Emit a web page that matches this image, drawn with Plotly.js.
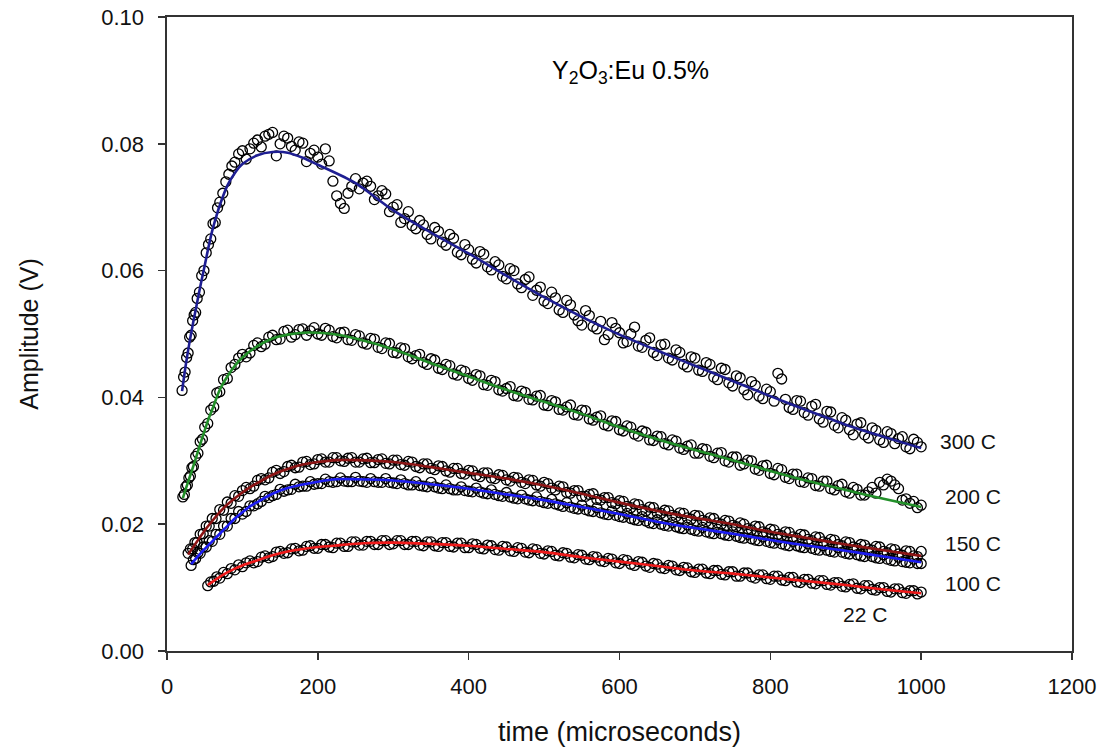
<!DOCTYPE html>
<html>
<head>
<meta charset="utf-8">
<script src="https://cdn.plot.ly/plotly-3.0.1.min.js"></script>
<style>html,body{margin:0;padding:0;background:#fff;}#chart{width:1106px;height:755px;}</style>
</head>
<body>
<div id="chart"></div>
<script>
// ---- time grids (microseconds) ----
var tTail = [100,110,120,130,140,150,160,170,180,190,200,210,220,230,240,250,260,270,280,290,300,
  310,320,330,340,350,360,370,380,390,400,410,420,430,440,450,460,470,480,490,500,
  510,520,530,540,550,560,570,580,590,600,610,620,630,640,650,660,670,680,690,700,
  710,720,730,740,750,760,770,780,790,800,810,820,830,840,850,860,870,880,890,900,
  910,920,930,940,950,960,970,980,990,1000];
var tMid = [105,115,125,135,145,155,165,175,185,195,205,215,225,235,245,255,265,275,285,295,
  305,315,325,335,345,355,365,375,385,395,405,415,425,435,445,455,465,475,485,495,
  505,515,525,535,545,555,565,575,585,595,605,615,625,635,645,655,665,675,685,695,
  705,715,725,735,745,755,765,775,785,795,805,815,825,835,845,855,865,875,885,895,
  905,915,925,935,945,955,965,975,985,995];

// ---- 300 C measured points ----
var t300Rise = [20,22,24,26,28,30,32,34,36,38,40,43,46,49,52,55,58,61,64,67,70,74,78,82,86,90,95];
var a300Rise = [0.0411,0.0432,0.0440,0.0463,0.0470,0.0495,0.0498,0.0521,0.0530,0.0534,0.0556,0.0566,0.0592,0.0600,0.0628,0.0641,0.0650,0.0674,0.0676,0.0699,0.0708,0.0722,0.0740,0.0752,0.0765,0.0771,0.0784];
var a300Tail = [0.0789,0.0792,0.0806,0.0812,0.0818,0.0800,0.0809,0.0790,0.0801,0.0785,0.0779,
  0.0792,0.0741,0.0706,0.0722,0.0745,0.0738,0.0733,0.0718,0.0721,0.0700,
  0.0676,0.0693,0.0666,0.0672,0.0650,0.0662,0.0640,0.0651,0.0625,0.0633,
  0.0612,0.0626,0.0601,0.0609,0.0587,0.0600,0.0573,0.0590,0.0569,0.0552,
  0.0566,0.0538,0.0553,0.0530,0.0514,0.0529,0.0508,0.0491,0.0518,0.0502,
  0.0488,0.0511,0.0479,0.0494,0.0466,0.0484,0.0459,0.0471,0.0448,0.0462,
  0.0441,0.0452,0.0428,0.0444,0.0418,0.0431,0.0404,0.0419,0.0398,0.0409,
  0.0438,0.0397,0.0381,0.0394,0.0372,0.0389,0.0361,0.0377,0.0352,0.0364,
  0.0341,0.0360,0.0336,0.0348,0.0329,0.0343,0.0335,0.0322,0.0334,0.0322];
var a300Mid = [0.0776,0.0801,0.0795,0.0815,0.0781,0.0812,0.0796,0.0803,0.0772,0.0790,
  0.0768,0.0773,0.0718,0.0698,0.0733,0.0729,0.0741,0.0712,0.0726,0.0693,
  0.0704,0.0682,0.0671,0.0679,0.0657,0.0668,0.0645,0.0657,0.0629,0.0641,
  0.0618,0.0630,0.0606,0.0614,0.0591,0.0603,0.0579,0.0586,0.0561,0.0574,
  0.0548,0.0557,0.0534,0.0546,0.0521,0.0537,0.0512,0.0520,0.0499,0.0509,
  0.0486,0.0500,0.0481,0.0490,0.0471,0.0483,0.0462,0.0475,0.0452,0.0464,
  0.0443,0.0455,0.0432,0.0446,0.0423,0.0434,0.0412,0.0425,0.0402,0.0413,
  0.0394,0.0429,0.0384,0.0395,0.0376,0.0386,0.0366,0.0378,0.0356,0.0368,
  0.0349,0.0358,0.0341,0.0352,0.0333,0.0346,0.0327,0.0338,0.0319,0.0329];

// ---- 200 C measured points ----
var t200Rise = [21,23,25,27,29,31,33,35,38,41,44,47,50,54,58,62,66,70,75,80,85,90,95];
var a200Rise = [0.0243,0.0247,0.0259,0.0262,0.0273,0.0276,0.0289,0.0291,0.0307,0.0312,0.0330,0.0334,0.0353,0.0359,0.0380,0.0385,0.0407,0.0409,0.0428,0.0430,0.0447,0.0452,0.0462];
var a200Tail = [0.0468,0.0470,0.0486,0.0484,0.0498,0.0492,0.0506,0.0499,0.0508,0.0505,0.0500,
  0.0509,0.0496,0.0502,0.0491,0.0499,0.0486,0.0493,0.0479,0.0486,0.0471,
  0.0478,0.0464,0.0466,0.0455,0.0461,0.0446,0.0452,0.0437,0.0443,0.0430,
  0.0436,0.0420,0.0427,0.0412,0.0414,0.0403,0.0410,0.0397,0.0402,0.0388,
  0.0395,0.0381,0.0385,0.0373,0.0380,0.0366,0.0369,0.0357,0.0363,0.0349,
  0.0355,0.0342,0.0347,0.0333,0.0339,0.0327,0.0333,0.0320,0.0323,0.0312,
  0.0319,0.0307,0.0312,0.0300,0.0306,0.0293,0.0301,0.0287,0.0292,0.0280,
  0.0288,0.0274,0.0279,0.0267,0.0273,0.0261,0.0268,0.0256,0.0261,0.0251,
  0.0258,0.0246,0.0251,0.0249,0.0262,0.0268,0.0256,0.0240,0.0236,0.0230];
var a200Mid = [0.0464,0.0482,0.0480,0.0495,0.0491,0.0504,0.0495,0.0507,0.0498,0.0510,
  0.0498,0.0506,0.0494,0.0503,0.0490,0.0497,0.0484,0.0492,0.0477,0.0485,
  0.0470,0.0477,0.0461,0.0468,0.0452,0.0459,0.0444,0.0450,0.0435,0.0441,
  0.0427,0.0434,0.0419,0.0425,0.0410,0.0417,0.0402,0.0408,0.0396,0.0403,
  0.0387,0.0393,0.0380,0.0388,0.0372,0.0379,0.0364,0.0371,0.0355,0.0362,
  0.0347,0.0353,0.0339,0.0345,0.0332,0.0338,0.0325,0.0331,0.0318,0.0325,
  0.0312,0.0318,0.0305,0.0313,0.0298,0.0306,0.0295,0.0300,0.0285,0.0293,
  0.0278,0.0286,0.0272,0.0279,0.0266,0.0272,0.0260,0.0268,0.0254,0.0263,
  0.0249,0.0255,0.0246,0.0258,0.0266,0.0271,0.0262,0.0238,0.0233,0.0226];

// ---- 150 C (upper, dark red fit) measured points ----
var t150aRise = [28,31,34,37,40,44,48,52,56,60,65,70,75,80,85,90,95];
var a150aRise = [0.0154,0.0161,0.0161,0.0171,0.0171,0.0184,0.0185,0.0197,0.0197,0.0209,0.0209,0.0223,0.0222,0.0235,0.0233,0.0245,0.0244];
var a150aTail = [0.0253,0.0256,0.0269,0.0270,0.0282,0.0280,0.0291,0.0289,0.0298,0.0294,0.0302,
  0.0298,0.0305,0.0300,0.0304,0.0298,0.0303,0.0297,0.0302,0.0296,0.0301,
  0.0294,0.0299,0.0291,0.0295,0.0288,0.0292,0.0284,0.0288,0.0280,0.0285,
  0.0277,0.0281,0.0273,0.0278,0.0270,0.0274,0.0266,0.0270,0.0262,0.0266,
  0.0257,0.0260,0.0250,0.0253,0.0244,0.0247,0.0239,0.0242,0.0234,0.0237,
  0.0228,0.0232,0.0223,0.0227,0.0218,0.0222,0.0214,0.0218,0.0210,0.0214,
  0.0206,0.0210,0.0202,0.0206,0.0198,0.0202,0.0193,0.0197,0.0188,0.0192,
  0.0184,0.0188,0.0180,0.0184,0.0176,0.0180,0.0172,0.0176,0.0168,0.0172,
  0.0164,0.0168,0.0161,0.0165,0.0157,0.0161,0.0153,0.0158,0.0150,0.0157];
var a150aMid = [0.0258,0.0260,0.0272,0.0273,0.0285,0.0283,0.0293,0.0290,0.0299,0.0295,
  0.0303,0.0298,0.0305,0.0299,0.0305,0.0298,0.0304,0.0297,0.0303,0.0295,
  0.0301,0.0293,0.0298,0.0289,0.0295,0.0286,0.0291,0.0282,0.0288,0.0279,
  0.0284,0.0275,0.0281,0.0272,0.0277,0.0268,0.0273,0.0264,0.0269,0.0260,
  0.0264,0.0254,0.0259,0.0249,0.0253,0.0244,0.0248,0.0238,0.0242,0.0232,
  0.0236,0.0226,0.0231,0.0221,0.0226,0.0217,0.0221,0.0212,0.0217,0.0208,
  0.0213,0.0204,0.0209,0.0200,0.0205,0.0196,0.0200,0.0191,0.0196,0.0186,
  0.0191,0.0182,0.0187,0.0178,0.0183,0.0174,0.0179,0.0170,0.0175,0.0166,
  0.0171,0.0162,0.0167,0.0159,0.0164,0.0155,0.0160,0.0151,0.0157,0.0149];

// ---- 150 C (lower, blue fit) measured points ----
var t150bRise = [32,35,38,41,44,48,52,56,60,65,70,75,80,85,90,95];
var a150bRise = [0.0135,0.0144,0.0146,0.0155,0.0154,0.0164,0.0164,0.0174,0.0173,0.0184,0.0184,0.0197,0.0197,0.0209,0.0209,0.0220];
var a150bTail = [0.0216,0.0229,0.0232,0.0244,0.0245,0.0255,0.0254,0.0263,0.0260,0.0267,0.0264,
  0.0271,0.0266,0.0273,0.0267,0.0274,0.0267,0.0272,0.0266,0.0272,0.0265,
  0.0270,0.0262,0.0267,0.0260,0.0266,0.0257,0.0262,0.0254,0.0259,0.0252,
  0.0257,0.0249,0.0254,0.0245,0.0250,0.0241,0.0246,0.0238,0.0243,0.0234,
  0.0239,0.0230,0.0234,0.0225,0.0230,0.0221,0.0226,0.0216,0.0221,0.0212,
  0.0217,0.0207,0.0212,0.0202,0.0207,0.0198,0.0203,0.0194,0.0199,0.0190,
  0.0195,0.0186,0.0192,0.0183,0.0188,0.0179,0.0184,0.0175,0.0180,0.0171,
  0.0176,0.0167,0.0173,0.0164,0.0169,0.0160,0.0166,0.0157,0.0163,0.0154,
  0.0159,0.0150,0.0156,0.0147,0.0152,0.0143,0.0148,0.0140,0.0145,0.0138];
var a150bMid = [0.0220,0.0229,0.0236,0.0242,0.0247,0.0252,0.0255,0.0259,0.0260,0.0263,
  0.0264,0.0267,0.0267,0.0268,0.0267,0.0268,0.0266,0.0267,0.0266,0.0266,
  0.0264,0.0264,0.0262,0.0261,0.0259,0.0259,0.0256,0.0256,0.0254,0.0253,
  0.0251,0.0251,0.0248,0.0247,0.0244,0.0243,0.0240,0.0240,0.0237,0.0236,
  0.0233,0.0232,0.0228,0.0227,0.0224,0.0223,0.0220,0.0218,0.0215,0.0214,
  0.0211,0.0209,0.0206,0.0205,0.0201,0.0200,0.0197,0.0196,0.0193,0.0192,
  0.0189,0.0188,0.0185,0.0185,0.0182,0.0181,0.0178,0.0177,0.0174,0.0173,
  0.0170,0.0169,0.0166,0.0166,0.0163,0.0162,0.0159,0.0159,0.0156,0.0156,
  0.0153,0.0152,0.0149,0.0149,0.0146,0.0145,0.0142,0.0141,0.0139,0.0138];

// ---- 22 C measured points ----
var t22Rise = [54,58,62,66,70,75,80,85,90,95];
var a22Rise = [0.0103,0.0109,0.0110,0.0117,0.0115,0.0124,0.0122,0.0130,0.0128,0.0136];
var a22Tail = [0.0133,0.0142,0.0141,0.0150,0.0149,0.0157,0.0155,0.0162,0.0159,0.0166,0.0162,
  0.0168,0.0163,0.0170,0.0165,0.0172,0.0167,0.0173,0.0168,0.0174,0.0169,
  0.0174,0.0168,0.0173,0.0166,0.0172,0.0165,0.0171,0.0164,0.0170,0.0163,
  0.0168,0.0161,0.0166,0.0159,0.0164,0.0157,0.0162,0.0155,0.0160,0.0153,
  0.0157,0.0150,0.0154,0.0147,0.0151,0.0144,0.0148,0.0141,0.0145,0.0138,
  0.0143,0.0135,0.0140,0.0132,0.0137,0.0130,0.0134,0.0127,0.0131,0.0124,
  0.0129,0.0122,0.0127,0.0120,0.0125,0.0118,0.0123,0.0115,0.0120,0.0113,
  0.0118,0.0111,0.0116,0.0108,0.0113,0.0106,0.0111,0.0104,0.0108,0.0101,
  0.0106,0.0098,0.0103,0.0096,0.0100,0.0093,0.0098,0.0091,0.0095,0.0093];
var a22Mid = [0.0139,0.0139,0.0148,0.0147,0.0156,0.0154,0.0161,0.0158,0.0165,0.0162,
  0.0168,0.0164,0.0170,0.0165,0.0172,0.0167,0.0173,0.0168,0.0174,0.0168,
  0.0174,0.0168,0.0173,0.0167,0.0172,0.0166,0.0171,0.0165,0.0170,0.0163,
  0.0169,0.0162,0.0167,0.0160,0.0165,0.0158,0.0163,0.0156,0.0161,0.0154,
  0.0158,0.0151,0.0155,0.0148,0.0152,0.0145,0.0149,0.0142,0.0146,0.0139,
  0.0144,0.0137,0.0141,0.0134,0.0138,0.0131,0.0135,0.0128,0.0132,0.0125,
  0.0129,0.0123,0.0127,0.0121,0.0125,0.0118,0.0123,0.0117,0.0120,0.0114,
  0.0118,0.0112,0.0116,0.0109,0.0113,0.0107,0.0111,0.0105,0.0108,0.0102,
  0.0105,0.0099,0.0103,0.0097,0.0100,0.0094,0.0098,0.0092,0.0095,0.0090];

// ---- fitted curves ----
var f300T = [20,25,30,35,40,45,50,55,60,65,70,80,90,100,120,140,160,180,200,250,300,350,400,450,500,550,600,650,700,750,800,850,900,950,1000];
var f300V = [0.0410,0.0452,0.0488,0.0520,0.0550,0.0580,0.0608,0.0637,0.0663,0.0684,0.0703,0.0734,0.0754,0.0768,0.0782,0.0787,0.0786,0.0778,0.0767,0.0738,0.0695,0.0660,0.0627,0.0592,0.0558,0.0527,0.0499,0.0474,0.0450,0.0426,0.0402,0.0379,0.0357,0.0338,0.0320];
var f200T = [21,25,30,35,40,45,50,55,60,70,80,90,100,120,140,160,180,200,220,250,300,350,400,450,500,550,600,650,700,750,800,850,900,950,1000];
var f200V = [0.0241,0.0256,0.0274,0.0292,0.0311,0.0330,0.0348,0.0366,0.0381,0.0412,0.0433,0.0450,0.0463,0.0481,0.0493,0.0499,0.0502,0.0502,0.0500,0.0493,0.0476,0.0454,0.0433,0.0412,0.0393,0.0374,0.0353,0.0334,0.0317,0.0301,0.0284,0.0268,0.0254,0.0240,0.0227];
var f150aT = [28,40,50,60,70,80,90,100,110,120,140,160,180,200,225,250,300,350,400,450,500,550,600,650,700,750,800,850,900,950,1000];
var f150aV = [0.0152,0.0173,0.0190,0.0205,0.0219,0.0231,0.0241,0.0250,0.0258,0.0265,0.0278,0.0287,0.0294,0.0298,0.0301,0.0301,0.0298,0.0290,0.0281,0.0272,0.0261,0.0248,0.0234,0.0221,0.0210,0.0200,0.0188,0.0178,0.0168,0.0159,0.0150];
var f150bT = [32,40,50,60,70,80,90,100,110,120,140,160,200,225,250,300,350,400,450,500,550,600,650,700,750,800,850,900,950,1000];
var f150bV = [0.0137,0.0148,0.0161,0.0173,0.0185,0.0197,0.0209,0.0219,0.0228,0.0235,0.0248,0.0257,0.0267,0.0271,0.0271,0.0269,0.0263,0.0256,0.0247,0.0238,0.0227,0.0216,0.0204,0.0194,0.0185,0.0175,0.0166,0.0158,0.0149,0.0140];
var f22T = [54,60,70,80,90,100,120,140,160,180,200,230,260,300,350,400,450,500,550,600,650,700,750,800,850,900,950,1000];
var f22V = [0.0104,0.0109,0.0117,0.0124,0.0130,0.0135,0.0143,0.0151,0.0157,0.0161,0.0164,0.0167,0.0170,0.0171,0.0169,0.0166,0.0161,0.0156,0.0148,0.0141,0.0134,0.0127,0.0122,0.0116,0.0110,0.0104,0.0097,0.0091];

// ---- text labels ----
var curveLabels = ['300 C','200 C','150 C','100 C','22 C'];
var labelX = [1062,1069,1069,1069,925];
var labelY = [0.0331,0.0244,0.0170,0.0106,0.0057];
var chartTitle = 'Y<sub>2</sub>O<sub>3</sub>:Eu 0.5%';

var FONT = 'Liberation Sans, Arial, Helvetica, sans-serif';

function pts(x, y) {
  return {x: x, y: y, type: 'scatter', mode: 'markers', hoverinfo: 'skip',
    marker: {symbol: 'circle-open', size: 10, color: '#000', line: {width: 1.3, color: '#000'}}};
}
function fit(x, y, c) {
  return {x: x, y: y, type: 'scatter', mode: 'lines', hoverinfo: 'skip',
    line: {color: c, width: 2.6, shape: 'spline', smoothing: 0.8}};
}

var data = [
  pts(t300Rise.concat(tTail, tMid), a300Rise.concat(a300Tail, a300Mid)),
  pts(t200Rise.concat(tTail, tMid), a200Rise.concat(a200Tail, a200Mid)),
  pts(t150aRise.concat(tTail, tMid), a150aRise.concat(a150aTail, a150aMid)),
  pts(t150bRise.concat(tTail, tMid), a150bRise.concat(a150bTail, a150bMid)),
  pts(t22Rise.concat(tTail, tMid), a22Rise.concat(a22Tail, a22Mid)),
  fit(f300T, f300V, '#1e1e92'),
  fit(f200T, f200V, '#23902a'),
  fit(f150aT, f150aV, '#8c1414'),
  fit(f150bT, f150bV, '#1c1cf0'),
  fit(f22T, f22V, '#ef1a1a')
];

var annotations = curveLabels.map(function (t, i) {
  return {x: labelX[i], y: labelY[i], xref: 'x', yref: 'y', text: t, showarrow: false,
    font: {family: FONT, size: 21, color: '#111'}};
});
annotations.push({x: 614, y: 0.0913, xref: 'x', yref: 'y', text: chartTitle, showarrow: false,
  font: {family: FONT, size: 25, color: '#000'}});

var layout = {
  width: 1106, height: 755,
  margin: {l: 167, r: 34, t: 17, b: 104, pad: 0},
  paper_bgcolor: '#fff', plot_bgcolor: '#fff',
  showlegend: false,
  font: {family: FONT, color: '#111'},
  xaxis: {
    range: [0, 1200], tick0: 0, dtick: 200, ticks: 'outside', ticklen: 7, tickwidth: 1.5, tickcolor: '#333',
    showline: true, linewidth: 1.6, linecolor: '#333', mirror: true, showgrid: false, zeroline: false,
    tickfont: {size: 22, family: FONT, color: '#111'}, ticklabelstandoff: 8,
    title: {text: 'time (microseconds)', font: {size: 27, family: FONT, color: '#111'}, standoff: 24},
    automargin: false
  },
  yaxis: {
    range: [0, 0.1], tick0: 0, dtick: 0.02, tickformat: '.2f', ticks: 'outside', ticklen: 7, tickwidth: 1.5, tickcolor: '#333',
    showline: true, linewidth: 1.6, linecolor: '#333', mirror: true, showgrid: false, zeroline: false,
    tickfont: {size: 22, family: FONT, color: '#111'}, ticklabelstandoff: 10,
    title: {text: 'Amplitude (V)', font: {size: 25, family: FONT, color: '#111'}, standoff: 55},
    automargin: false
  },
  annotations: annotations
};

Plotly.newPlot('chart', data, layout, {displayModeBar: false, staticPlot: true});
</script>
</body>
</html>
